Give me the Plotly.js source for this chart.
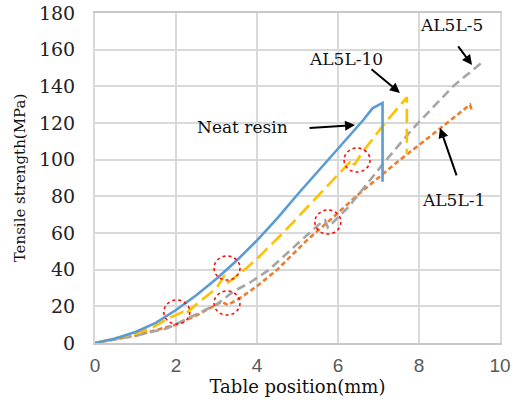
<!DOCTYPE html>
<html>
<head>
<meta charset="utf-8">
<script src="https://cdn.plot.ly/plotly-3.0.1.min.js"></script>
<style>html,body{margin:0;padding:0;background:#fff}#chart{width:521px;height:400px}</style>
</head>
<body>
<div id="chart"></div>
<script>
// Neat resin (blue solid)
const neatX = [0, 0.5, 1, 1.5, 2, 2.5, 3, 3.5, 4, 4.5, 5, 5.5, 6, 6.4, 6.62, 6.85, 7.1, 7.1];
const neatY = [0, 2.5, 6, 11, 18, 26, 35, 45, 56, 68, 81, 93.5, 106, 116, 121.5, 128, 131, 88];
// AL5L-10 (gold long dash)
const al10X = [0, 0.5, 1, 1.43, 1.78, 2.17, 2.22, 2.5, 3.0, 3.2, 3.29, 3.75, 4, 4.64, 5.2, 5.8, 6.35, 6.4, 6.6, 7.16, 7.7, 7.7];
const al10Y = [0, 2.5, 5, 8.5, 13, 17, 15.5, 21, 30, 37, 33, 41, 46, 60, 73, 87, 100, 97, 104, 120, 134, 103];
// AL5L-5 (gray dash)
const al5X = [0, 0.5, 1, 1.78, 2.35, 3, 3.41, 3.83, 4.3, 4.74, 5.14, 5.6, 5.68, 5.75, 6.25, 7.16, 7.85, 8.84, 9.55];
const al5Y = [0, 2, 4, 8, 14, 21, 28, 33, 40, 49, 57, 66, 67, 63, 74, 99, 117, 140, 153];
// AL5L-1 (orange short dash)
const al1X = [0, 0.5, 1, 1.5, 2, 2.5, 2.9, 3.13, 3.28, 3.58, 4, 4.5, 5.23, 5.75, 6.5, 7.48, 8.52, 9.26, 9.3];
const al1Y = [0, 2, 4, 7, 10, 15, 20, 22.5, 20.7, 24.5, 31, 40, 56, 66, 81, 99, 117, 130, 127];

// Labels and arrows
const labelText = ["Neat resin", "AL5L-10", "AL5L-5", "AL5L-1"];
const labelX = [3.63, 6.2, 8.81, 8.84];
const labelY = [117.8, 155, 173.5, 78];
const arrowX = [6.42, 7.53, 9.31, 8.52];
const arrowY = [118.9, 136.4, 151.7, 117.3];
const arrowAX = [-47, -30, -15, 17];
const arrowAY = [3, -25, -20, 49];

// Dotted circles (centres)
const circX = [2.02, 3.26, 3.26, 5.75, 6.47];
const circY = [16.9, 40.9, 21.8, 66, 99.8];

const xTicks = [0, 2, 4, 6, 8, 10];
const yTicks = [0, 20, 40, 60, 80, 100, 120, 140, 160, 180];

const SERIF = 'DejaVu Serif';
const SANS = 'Liberation Sans';

const traces = [
  {x: al1X, y: al1Y, mode: 'lines', line: {color: '#ED7D31', width: 2.6, dash: '5px,3px'}},
  {x: al5X, y: al5Y, mode: 'lines', line: {color: '#A5A5A5', width: 2.6, dash: '9px,5px'}},
  {x: al10X, y: al10Y, mode: 'lines', line: {color: '#FFC000', width: 2.6, dash: '14px,6px'}},
  {x: neatX, y: neatY, mode: 'lines', line: {color: '#5B9BD5', width: 2.6}}
];

const annotations = [];
for (let i = 0; i < labelText.length; i++) {
  annotations.push({x: labelX[i], y: labelY[i], xref: 'x', yref: 'y', text: labelText[i], showarrow: false,
    font: {family: SERIF, size: 17, color: '#111'}});
  annotations.push({x: arrowX[i], y: arrowY[i], xref: 'x', yref: 'y', text: '', showarrow: true,
    ax: arrowAX[i], ay: arrowAY[i], arrowhead: 2, arrowsize: 1, arrowwidth: 2, arrowcolor: '#000'});
}

const shapes = circX.map((cx, i) => ({
  type: 'circle', xref: 'x', yref: 'y', xsizemode: 'pixel', ysizemode: 'pixel',
  xanchor: cx, yanchor: circY[i], x0: -13, x1: 13, y0: -12, y1: 12,
  line: {color: '#FF0000', width: 1.5, dash: 'dot'}
}));

const layout = {
  width: 521, height: 400,
  margin: {l: 95, r: 21, t: 13, b: 57},
  paper_bgcolor: '#fff', plot_bgcolor: '#fff',
  showlegend: false,
  font: {family: SERIF},
  xaxis: {
    range: [0, 10], tickvals: xTicks, ticktext: xTicks.map(String),
    showgrid: true, gridcolor: '#D9D9D9', gridwidth: 2,
    showline: true, linecolor: '#C8C8C8', linewidth: 2, mirror: true,
    zeroline: false, ticks: '', ticklabelstandoff: 4,
    tickfont: {family: SANS, size: 19, color: '#595959'},
    title: {text: 'Table position(mm)', standoff: 4,
      font: {family: SERIF, size: 18, color: '#111'}}
  },
  yaxis: {
    range: [0, 180], tickvals: yTicks, ticktext: yTicks.map(String),
    showgrid: true, gridcolor: '#D9D9D9', gridwidth: 2,
    showline: true, linecolor: '#D9D9D9', linewidth: 2, mirror: true,
    zeroline: false, ticks: '', ticklabelstandoff: 14,
    tickfont: {family: SERIF, size: 19, color: '#222'},
    title: {text: 'Tensile strength(MPa)', standoff: 10,
      font: {family: SERIF, size: 15, color: '#111'}}
  },
  annotations: annotations,
  shapes: shapes
};

Plotly.newPlot('chart', traces, layout, {staticPlot: true, displayModeBar: false});
</script>
</body>
</html>
